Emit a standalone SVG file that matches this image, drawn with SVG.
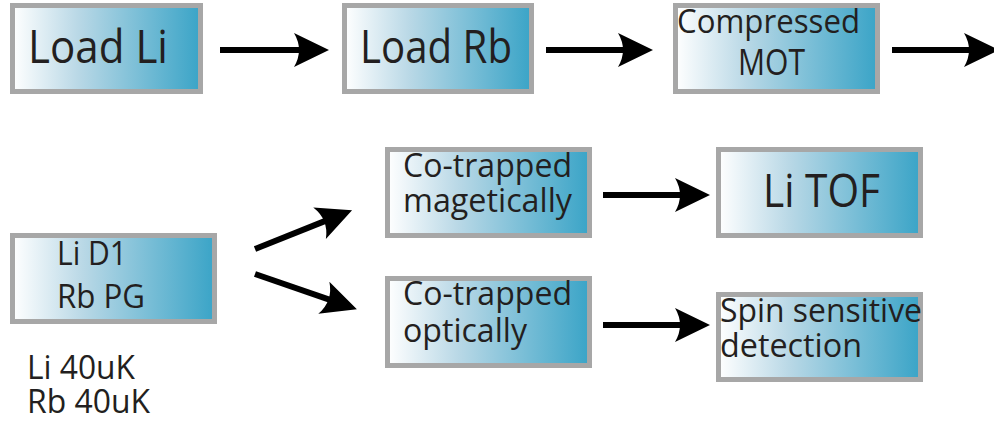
<svg xmlns="http://www.w3.org/2000/svg" width="994" height="427" viewBox="0 0 994 427">
<defs>
<linearGradient id="g" x1="0" y1="0" x2="1" y2="0">
<stop offset="0" stop-color="#ffffff"/>
<stop offset="0.35" stop-color="#b9d8e6"/>
<stop offset="1" stop-color="#3aa4c7"/>
</linearGradient>
<marker id="ah" markerUnits="userSpaceOnUse" markerWidth="60" markerHeight="60" refX="0" refY="0" orient="auto" overflow="visible">
<path d="M20,0 L-15,-17 Q-5,0 -15,17 Z" fill="#000"/>
</marker>
<style>
.box{fill:url(#g);stroke:#a7a7a7;stroke-width:5}
.t{font-family:"Open Sans","Noto Sans","Liberation Sans",sans-serif;fill:#231f20}
.c{fill:none;stroke:#000;stroke-width:6;marker-end:url(#ah)}
</style>
</defs>
<g id="load-li">
<rect class="box" x="12.5" y="5.5" width="188" height="86"/>
<text class="t" x="28" y="63" font-size="46" textLength="140" lengthAdjust="spacingAndGlyphs">Load Li</text>
</g>
<g id="load-rb">
<rect class="box" x="344.5" y="5.5" width="187" height="86"/>
<text class="t" x="360" y="63" font-size="46" textLength="152" lengthAdjust="spacingAndGlyphs">Load Rb</text>
</g>
<g id="compressed-mot">
<rect class="box" x="675.5" y="5.5" width="202" height="86"/>
<text class="t" x="677" y="33" font-size="32" textLength="183" lengthAdjust="spacingAndGlyphs">Compressed</text>
<text class="t" x="738" y="75" font-size="36" textLength="67" lengthAdjust="spacingAndGlyphs">MOT</text>
</g>
<g id="li-d1-rb-pg">
<rect class="box" x="12.5" y="235.5" width="202" height="86"/>
<text class="t" x="57" y="265" font-size="32" textLength="70" lengthAdjust="spacingAndGlyphs">Li D1</text>
<text class="t" x="57" y="308" font-size="32" textLength="88" lengthAdjust="spacingAndGlyphs">Rb PG</text>
</g>
<g id="temps">
<text class="t" x="27" y="379" font-size="32" textLength="108" lengthAdjust="spacingAndGlyphs">Li 40uK</text>
<text class="t" x="27" y="413" font-size="32" textLength="123" lengthAdjust="spacingAndGlyphs">Rb 40uK</text>
</g>
<g id="co-trapped-mag">
<rect class="box" x="387.5" y="149.5" width="202" height="86"/>
<text class="t" x="403" y="177" font-size="32" textLength="169" lengthAdjust="spacingAndGlyphs">Co-trapped</text>
<text class="t" x="403" y="212" font-size="32" textLength="169" lengthAdjust="spacingAndGlyphs">magetically</text>
</g>
<g id="co-trapped-opt">
<rect class="box" x="387.5" y="278.5" width="202" height="87"/>
<text class="t" x="403" y="305" font-size="32" textLength="169" lengthAdjust="spacingAndGlyphs">Co-trapped</text>
<text class="t" x="403" y="342" font-size="32" textLength="124" lengthAdjust="spacingAndGlyphs">optically</text>
</g>
<g id="li-tof">
<rect class="box" x="718.5" y="149.5" width="202" height="86"/>
<text class="t" x="763" y="207" font-size="45" textLength="117" lengthAdjust="spacingAndGlyphs">Li TOF</text>
</g>
<g id="spin-detection">
<rect class="box" x="718.5" y="294.5" width="202" height="85"/>
<text class="t" x="720" y="322" font-size="32" textLength="202" lengthAdjust="spacingAndGlyphs">Spin sensitive</text>
<text class="t" x="720" y="357" font-size="32" textLength="142" lengthAdjust="spacingAndGlyphs">detection</text>
</g>
<g id="connectors">
<path class="c" d="M220,50 L309,50"/>
<path class="c" d="M546,50 L633,50"/>
<path class="c" d="M892,50 L979,50"/>
<path class="c" d="M255,249 L333.5,217.6"/>
<path class="c" d="M255,274 L338,302.7"/>
<path class="c" d="M603,195 L690,195"/>
<path class="c" d="M603,325 L690,325"/>
</g>
</svg>
